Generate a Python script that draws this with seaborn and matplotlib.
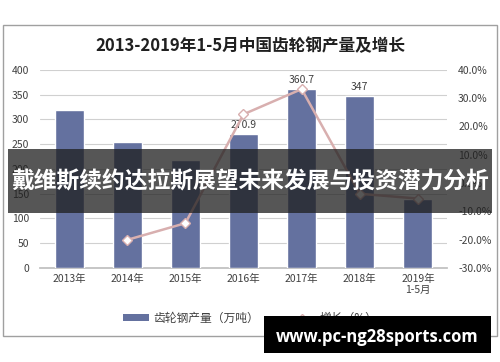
import numpy as np
import pandas as pd
import matplotlib
matplotlib.use("Agg")
import matplotlib.pyplot as plt
import seaborn as sns
from matplotlib.patches import Rectangle
from matplotlib.lines import Line2D
from matplotlib.patches import Patch

sns.set_theme(style="white")
plt.rcParams['font.family'] = ['Noto Sans CJK SC', 'DejaVu Sans']

categories = ["2013年", "2014年", "2015年", "2016年", "2017年", "2018年", "2019年\n1-5月"]
production = [318, 254, 218, 270.9, 360.7, 347, 139]
growth = [None, -20.1, -14.2, 24.3, 33.2, -3.8, -5.5]
labeled = {3: "270.9", 4: "360.7", 5: "347"}
title = "2013-2019年1-5月中国齿轮钢产量及增长"
legend_bar = "齿轮钢产量（万吨）"
legend_line = "增长（%）"
banner = "戴维斯续约达拉斯展望未来发展与投资潜力分析"
watermark = "www.pc-ng28sports.com"

bar_color = "#64719F"
line_color = "#D8AFAF"

fig = plt.figure(figsize=(5, 3.62), dpi=100)
ax = fig.add_axes([0.08, 0.26, 0.814, 0.547])

df = pd.DataFrame({"cat": categories, "prod": production})
sns.barplot(data=df, x="cat", y="prod", color=bar_color, width=0.5, ax=ax,
            saturation=1, zorder=3)
ax.set_ylim(0, 400)
ax.set_yticks(np.arange(0, 401, 50))
ax.set_xlim(-0.5, len(categories) - 0.5)
ax.set_xlabel("")
ax.set_ylabel("")
ax.yaxis.grid(True, color="#D0D0D0", linewidth=0.8, zorder=0)
ax.set_axisbelow(True)
for s in ["top", "right", "left"]:
    ax.spines[s].set_visible(False)
ax.spines["bottom"].set_color("#BFBFBF")
ax.tick_params(axis="y", length=0, labelsize=7.5, labelcolor="#404040", pad=8)
ax.tick_params(axis="x", length=0, labelsize=7.5, labelcolor="#404040", pad=4)
ax.set_xticks(np.arange(-0.5, len(categories), 1.0), minor=True)
ax.tick_params(axis="x", which="minor", length=3, color="#BFBFBF", direction="out")

for i, lab in labeled.items():
    ax.text(i, production[i] + 8, lab, ha="center", va="bottom", fontsize=7.5,
            color="#404040")

ax2 = ax.twinx()
gx = [i for i, g in enumerate(growth) if g is not None]
gy = [g for g in growth if g is not None]
gdf = pd.DataFrame({"x": gx, "y": gy})
sns.lineplot(data=gdf, x="x", y="y", ax=ax2, color=line_color, linewidth=1.8,
             marker="D", markersize=5, markerfacecolor="white",
             markeredgecolor=line_color, markeredgewidth=1, sort=False, zorder=4)
ax2.set_ylim(-30, 40)
ax2.set_yticks(np.arange(-30, 41, 10))
ax2.set_yticklabels([f"{v:.1f}%" for v in np.arange(-30, 41, 10)])
ax2.set_xlim(-0.5, len(categories) - 0.5)
ax2.set_ylabel("")
ax2.set_xlabel("")
for s in ["top", "right", "left", "bottom"]:
    ax2.spines[s].set_visible(False)
ax2.tick_params(axis="y", length=0, labelsize=7.5, labelcolor="#404040", pad=8)

fig.text(0.5, 1 - 46 / 362, title, ha="center", va="center", fontsize=12,
         fontweight="bold", color="#202020")

# legend
handles = [Patch(facecolor=bar_color, edgecolor="none"),
           Line2D([0], [0], color=line_color, linewidth=1.8, marker="D",
                  markersize=4.5, markerfacecolor="white",
                  markeredgecolor=line_color)]
fig.legend(handles, [legend_bar, legend_line], loc="center",
           bbox_to_anchor=(0.5, 1 - 318 / 362), ncol=2, frameon=False,
           fontsize=8.5, handlelength=2.2, handleheight=0.5, columnspacing=2.5,
           labelcolor="#404040", handletextpad=0.4)

# outer frame
fig.patches.append(Rectangle((3 / 500, 1 - 336 / 362), 494 / 500, 311 / 362,
                             transform=fig.transFigure, fill=False,
                             edgecolor="#A0A0A0", linewidth=1))

# banner overlay
fig.patches.append(Rectangle((8 / 500, 1 - 213 / 362), 484 / 500, 64 / 362,
                             transform=fig.transFigure, facecolor="#1E1E1E",
                             alpha=0.75, edgecolor="none", zorder=10))
fig.text(0.5, 1 - 182 / 362, banner, ha="center", va="center", fontsize=16.4,
         fontweight="bold", color="white", zorder=11)

# watermark
fig.patches.append(Rectangle((264 / 500, 1 - 353 / 362), 227 / 500, 37 / 362,
                             transform=fig.transFigure, facecolor="black",
                             edgecolor="none", zorder=10))
fig.text(377 / 500, 1 - 337 / 362, watermark, ha="center", va="center",
         fontsize=12, fontweight="bold", color="white", zorder=11,
         family=["Open Sans", "DejaVu Sans"])

fig.savefig("out.png", dpi=100)
